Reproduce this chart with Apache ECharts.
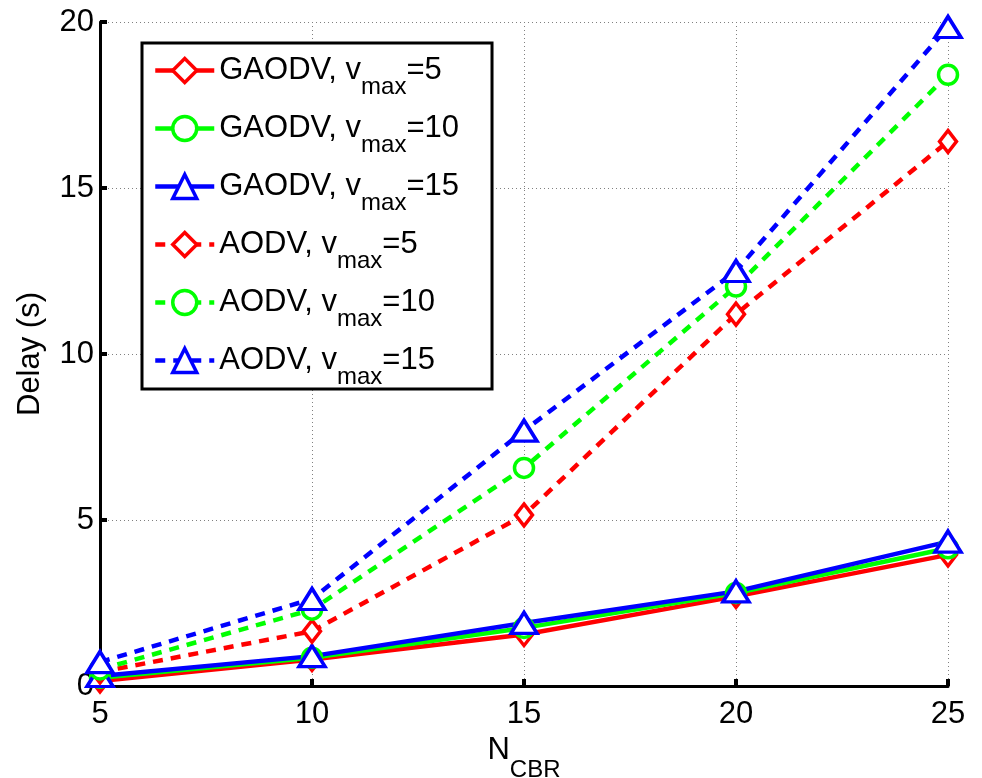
<!DOCTYPE html>
<html>
<head>
<meta charset="utf-8">
<script src="https://cdn.jsdelivr.net/npm/echarts@6/dist/echarts.min.js"></script>
<style>
html,body{margin:0;padding:0;background:#fff;overflow:hidden;}
#chart{width:982px;height:778px;}
</style>
</head>
<body>
<div id="chart"></div>
<script>
// ---- data ----
const nCbr = [5, 10, 15, 20, 25];
const gaodvV5  = [0.15, 0.80, 1.55, 2.70, 3.95];
const gaodvV10 = [0.25, 0.85, 1.75, 2.80, 4.15];
const gaodvV15 = [0.30, 0.90, 1.90, 2.85, 4.35];
const aodvV5   = [0.42, 1.65, 5.15, 11.20, 16.40];
const aodvV10  = [0.50, 2.30, 6.57, 12.03, 18.41];
const aodvV15  = [0.72, 2.62, 7.69, 12.50, 19.85];
const seriesNames = ['GAODV, v_max=5', 'GAODV, v_max=10', 'GAODV, v_max=15',
                     'AODV, v_max=5', 'AODV, v_max=10', 'AODV, v_max=15'];
const xTicks = [5, 10, 15, 20, 25];
const yTicks = [0, 5, 10, 15, 20];

const FONT = '"Liberation Sans", Arial, Helvetica, sans-serif';
const RED = '#ff0000', GREEN = '#00ff00', BLUE = '#0000ff';

function pairs(ys) { return nCbr.map((x, i) => [x, ys[i]]); }

function mk(name, ys, color, symbol, size, dashed) {
  return {
    name: name,
    type: 'line',
    data: pairs(ys),
    symbol: symbol,
    symbolSize: size,
    showAllSymbol: true,
    lineStyle: { color: color, width: 4.5, type: dashed ? [10, 8] : 'solid' },
    itemStyle: { color: '#ffffff', borderColor: color, borderWidth: 3.5 },
    emphasis: { disabled: true },
    animation: false
  };
}

const series = [
  mk(seriesNames[0], gaodvV5,  RED,   'diamond',  [17, 22], false),
  mk(seriesNames[1], gaodvV10, GREEN, 'circle',   19,       false),
  mk(seriesNames[2], gaodvV15, BLUE,  'triangle', [26, 21], false),
  mk(seriesNames[3], aodvV5,   RED,   'diamond',  [17, 22], true),
  mk(seriesNames[4], aodvV10,  GREEN, 'circle',   19,       true),
  mk(seriesNames[5], aodvV15,  BLUE,  'triangle', [26, 21], true)
];

const chart = echarts.init(document.getElementById('chart'), null, { renderer: 'canvas', width: 982, height: 778 });
chart.setOption({
  backgroundColor: '#ffffff',
  animation: false,
  grid: { left: 100, top: 22, width: 848, height: 664, containLabel: false, outerBoundsMode: 'none' },
  legend: {
    orient: 'vertical',
    left: 142,
    top: 43,
    padding: [12, 33, 0, 11],
    itemGap: 14,
    itemWidth: 59,
    itemHeight: 30,
    borderColor: '#000',
    borderWidth: 3,
    backgroundColor: '#fff',
    selectedMode: false,
    lineStyle: { width: 4.5 },
    itemStyle: { borderWidth: 3.5 },
    data: seriesNames,
    formatter: function (name) {
      const parts = name.split('_max');
      return '{a|' + parts[0] + '}{b|max}{a|' + parts[1] + '}';
    },
    textStyle: {
      fontFamily: FONT,
      color: '#000',
      rich: {
        a: { fontSize: 31, fontFamily: FONT, color: '#000', lineHeight: 31, padding: [0, 0, 0, 0], verticalAlign: 'top' },
        b: { fontSize: 24, fontFamily: FONT, color: '#000', lineHeight: 24, padding: [20, 0, 0, 0], verticalAlign: 'top' }
      }
    }
  },
  xAxis: {
    type: 'value',
    min: 5, max: 25, interval: 5,
    name: '{n|N}{s|CBR}',
    nameLocation: 'middle',
    nameGap: 39,
    nameTextStyle: {
      fontFamily: FONT,
      color: '#000',
      rich: {
        n: { fontSize: 31, fontFamily: FONT, color: '#000', lineHeight: 36, padding: [0, 0, 0, 0], verticalAlign: 'top' },
        s: { fontSize: 24, fontFamily: FONT, color: '#000', lineHeight: 24, padding: [23, 0, 0, 0], verticalAlign: 'top' }
      }
    },
    axisLine: { show: true, onZero: false, lineStyle: { color: '#000', width: 3 } },
    axisTick: { show: true, inside: true, length: 7, lineStyle: { color: '#000', width: 4 } },
    axisLabel: {
      fontFamily: FONT, fontSize: 31, color: '#000', margin: 13,
      formatter: function (v) { return xTicks.indexOf(v) >= 0 ? String(v) : ''; }
    },
    splitLine: { show: true, lineStyle: { color: '#808080', width: 1, type: [1, 3] } }
  },
  yAxis: {
    type: 'value',
    min: 0, max: 20, interval: 5,
    name: 'Delay (s)',
    nameLocation: 'middle',
    nameGap: 54,
    nameTextStyle: { fontFamily: FONT, fontSize: 31, color: '#000' },
    axisLine: { show: true, onZero: false, lineStyle: { color: '#000', width: 3 } },
    axisTick: { show: true, inside: true, length: 7, lineStyle: { color: '#000', width: 4 } },
    axisLabel: {
      fontFamily: FONT, fontSize: 31, color: '#000', margin: 6,
      formatter: function (v) { return yTicks.indexOf(v) >= 0 ? String(v) : ''; }
    },
    splitLine: { show: true, lineStyle: { color: '#808080', width: 1, type: [1, 3] } }
  },
  series: series
});
</script>
</body>
</html>
